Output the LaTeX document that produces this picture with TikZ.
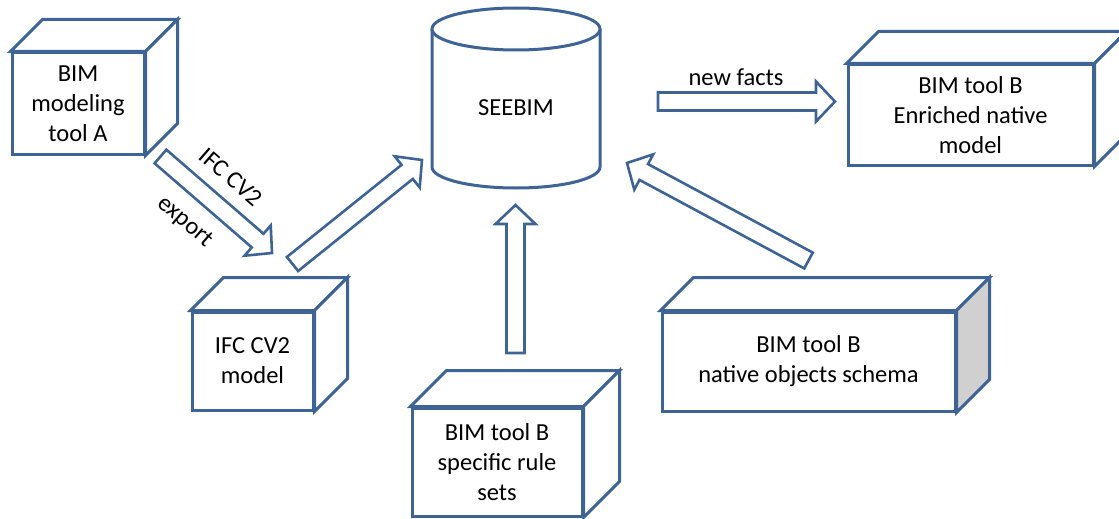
\documentclass[tikz,border=0pt]{standalone}
\usepackage{fontspec}
\setmainfont{Carlito}
\usetikzlibrary{calc}
\definecolor{edge}{RGB}{62,100,150}
\definecolor{sidegray}{RGB}{208,208,208}
\tikzset{
  txt/.style={font=\fontsize{24.5}{30}\selectfont, align=center, inner sep=0pt},
  front/.style={txt, rectangle, draw=edge, line width=3pt, fill=white},
  face/.style={draw=edge, line width=3pt, fill=white, line join=miter},
  arr/.style={draw=edge, line width=2.6pt, fill=white, line join=miter},
}
\newcommand\cubebox[8]{%
  \node[front, minimum width=#4pt, minimum height=#5pt] (#1) at (#2,#3) {#8};
  \filldraw[face] (#1.north west) -- ++(#6,-#6) -- ($(#1.north east)+(#6,-#6)$) -- (#1.north east) -- cycle;
  \filldraw[face, fill=#7] (#1.north east) -- ++(#6,-#6) -- ($(#1.south east)+(#6,-#6)$) -- (#1.south east) -- cycle;
}
\newcommand\blockarr[2]{%
  \draw[arr] let \p1=($(#2)-(#1)$), \n1={atan2(\y1,\x1)}, \n2={veclen(\x1,\y1)-19} in
    ($(#1)+(\n1+90:9pt)$) -- ($(#1)+(\n1:\n2)+(\n1+90:9pt)$) -- ($(#1)+(\n1:\n2)+(\n1+90:20pt)$)
    -- (#2) -- ($(#1)+(\n1:\n2)+(\n1-90:20pt)$) -- ($(#1)+(\n1:\n2)+(\n1-90:9pt)$)
    -- ($(#1)+(\n1-90:9pt)$) -- cycle;
}
\begin{document}
\begin{tikzpicture}[x=1pt,y=-1pt]
\useasboundingbox (0,0) rectangle (1119,519);
\clip (0,0) rectangle (1119,519);
\fill[white] (0,0) rectangle (1119,519);

% cubes
\cubebox{toolA}{78}{103.5}{132}{101}{32}{white}{BIM\\modeling\\tool A}
\cubebox{ifc}{252.5}{361}{121}{98}{33}{white}{IFC CV2\\model}
\cubebox{rules}{497}{462}{170}{108}{36}{white}{BIM tool B\\specific rule\\sets}
\cubebox{schema}{808.5}{361.5}{293}{99}{33}{sidegray}{BIM tool B\\native objects schema}
\cubebox{enriched}{970.5}{115}{245}{100}{32}{white}{BIM tool B\\Enriched native\\model}

% cylinder
\draw[face] (432,29) -- (432,167) arc[start angle=180, end angle=360, x radius=84pt, y radius=21pt] -- (600,29);
\draw[face] (516,29) ellipse [x radius=84pt, y radius=21pt];
\node[txt] (seebim) at (516,108) {SEEBIM};

% arrow ends
\coordinate (e1) at (160.5,156.5); \coordinate (e2) at (272,253);
\coordinate (i1) at (292.5,264);   \coordinate (i2) at (422,160);
\coordinate (r1) at (515.5,353);   \coordinate (r2) at (515.5,205);
\coordinate (s1) at (808.5,260.5); \coordinate (s2) at (627,163);
\coordinate (n1) at (658,101.5);   \coordinate (n2) at (835,101.5);

\blockarr{e1}{e2}
\blockarr{i1}{i2}
\blockarr{r1}{r2}
\blockarr{s1}{s2}
\blockarr{n1}{n2}

% labels
\node[txt] (lnew) at (736,77) {new facts};
\node[txt, rotate=-41] (lifc) at (231,177) {IFC CV2};
\node[txt, rotate=-41] (lexp) at (185,222) {export};
\end{tikzpicture}
\end{document}
